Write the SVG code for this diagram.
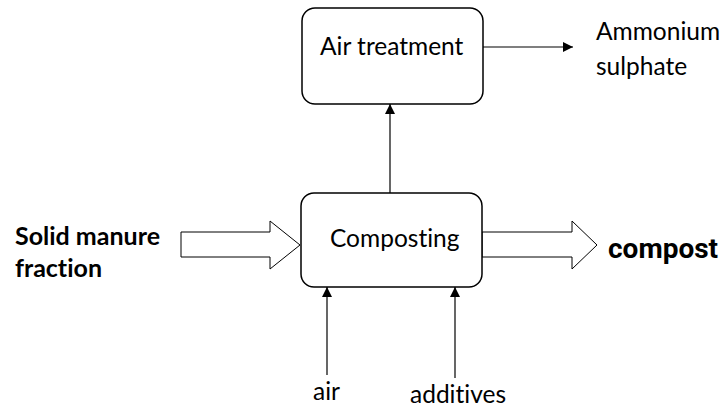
<svg xmlns="http://www.w3.org/2000/svg" width="728" height="412" viewBox="0 0 728 412">
  <defs>
    <marker id="arrow" viewBox="0 0 10 10" refX="10" refY="5" markerWidth="10" markerHeight="10" markerUnits="userSpaceOnUse" orient="auto">
      <path d="M0,0 L10,5 L0,10 z" fill="#000"/>
    </marker>
    <style>
      .box { fill: #fff; stroke: #000; stroke-width: 1.5; }
      .line { stroke: #000; stroke-width: 1.2; fill: none; }
      .block { fill: #fff; stroke: #000; stroke-width: 1; }
      text { font-variant-ligatures: none; }
      .label { font-family: Lato, "Open Sans", "Liberation Sans", sans-serif; font-size: 24.5px; fill: #000; }
      .bold { font-weight: bold; font-size: 25px; }
      .compost { font-family: Roboto, "Liberation Sans", sans-serif; font-weight: bold; font-size: 28px; fill: #000; }
    </style>
  </defs>
  <rect width="728" height="412" fill="#fff"/>

  <g id="connectors">
    <line class="line" x1="483" y1="47" x2="573" y2="47" marker-end="url(#arrow)"/>
    <line class="line" x1="390" y1="193" x2="390" y2="104" marker-end="url(#arrow)"/>
    <line class="line" x1="327" y1="375" x2="327" y2="287" marker-end="url(#arrow)"/>
    <line class="line" x1="455" y1="378" x2="455" y2="287" marker-end="url(#arrow)"/>
    <path class="block" d="M181,232 H270 V221 L300,245 L270,269 V257 H181 Z"/>
    <path class="block" d="M482,232 H572 V221 L597,245 L572,269 V257 H482 Z"/>
  </g>

  <g id="air-treatment">
    <rect class="box" x="302" y="8" width="181" height="96" rx="13"/>
    <text class="label" x="320" y="55">Air treatment</text>
  </g>

  <g id="composting">
    <rect class="box" x="301" y="193" width="181" height="94" rx="13"/>
    <text class="label" x="330" y="247">Composting</text>
  </g>

  <g id="ammonium-sulphate">
    <text class="label" x="596" y="40">Ammonium</text>
    <text class="label" x="596" y="75">sulphate</text>
  </g>

  <g id="solid-manure">
    <text class="label bold" x="15" y="245">Solid manure</text>
    <text class="label bold" x="15" y="277">fraction</text>
  </g>

  <g id="compost">
    <text class="compost" x="608" y="258">compost</text>
  </g>

  <g id="air">
    <text class="label" x="313" y="400">air</text>
  </g>

  <g id="additives">
    <text class="label" x="410" y="403">additives</text>
  </g>
</svg>
